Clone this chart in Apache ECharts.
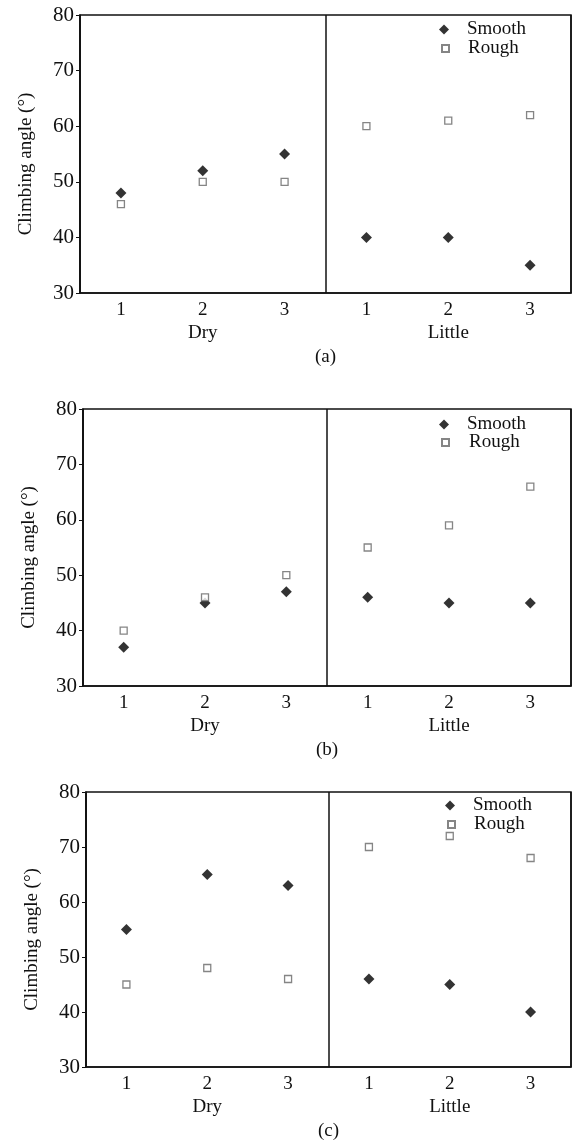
<!DOCTYPE html>
<html>
<head>
<meta charset="utf-8">
<script src="https://cdn.jsdelivr.net/npm/echarts@6/dist/echarts.min.js"></script>
<style>
  html, body { margin: 0; padding: 0; background: #fff; }
  #main { width: 572px; height: 1140px; }
</style>
</head>
<body>
<div id="main"></div>
<script>
// x categories (trial number inside each condition) and the two conditions
var trialLabels = ['1', '2', '3', '1', '2', '3'];
var conditions = ['Dry', 'Little'];
var panelNames = ['(a)', '(b)', '(c)'];
var yMin = 30, yMax = 80, yStep = 10;

// climbing angle values, Dry 1-3 then Little 1-3
var smoothA = [48, 52, 55, 40, 40, 35];
var roughA = [46, 50, 50, 60, 61, 62];
var smoothB = [37, 45, 47, 46, 45, 45];
var roughB = [40, 46, 50, 55, 59, 66];
var smoothC = [55, 65, 63, 46, 45, 40];
var roughC = [45, 48, 46, 70, 72, 68];

var smoothAll = [smoothA, smoothB, smoothC];
var roughAll = [roughA, roughB, roughC];

// panel boxes in px
var boxes = [
  { left: 80, top: 15, width: 491, height: 278, legX: 439, legY: 20, legX2: 441, legY2: 39, pad: 14 },
  { left: 83, top: 409, width: 488, height: 277, legX: 439, legY: 415, legX2: 441, legY2: 433, pad: 15 },
  { left: 86, top: 792, width: 485, height: 275, legX: 445, legY: 796, legX2: 447, legY2: 815, pad: 14 }
];

var font = 'Liberation Serif, Times New Roman, serif';

var myChart = echarts.init(document.getElementById('main'));

var option = {
  animation: false,
  backgroundColor: '#fff',
  title: [],
  legend: [],
  grid: [],
  xAxis: [],
  yAxis: [],
  series: []
};

boxes.forEach(function (b, i) {
  option.grid.push({
    left: b.left, top: b.top, width: b.width, height: b.height,
    show: true, borderColor: '#111', borderWidth: 1.5, backgroundColor: 'transparent'
  });

  // trial axis 1 2 3 | 1 2 3
  option.xAxis.push({
    type: 'category', gridIndex: i, data: trialLabels,
    axisLine: { lineStyle: { color: '#111', width: 1.5 } },
    axisTick: { alignWithLabel: true, inside: true, length: 4, lineStyle: { color: '#444' } },
    axisLabel: { color: '#111', fontFamily: font, fontSize: 19, margin: 8 },
    splitLine: { show: false }
  });
  // condition axis, its split line is the divider
  option.xAxis.push({
    type: 'category', gridIndex: i, data: conditions, position: 'bottom',
    axisLine: { show: false },
    axisTick: { show: false },
    axisLabel: { color: '#111', fontFamily: font, fontSize: 19, margin: 31 },
    splitLine: { show: true, interval: 0, lineStyle: { color: '#111', width: 1.5 } }
  });

  option.yAxis.push({
    type: 'value', gridIndex: i, min: yMin, max: yMax, interval: yStep,
    name: 'Climbing angle (°)', nameLocation: 'middle', nameGap: 44,
    nameTextStyle: { color: '#111', fontFamily: font, fontSize: 19, padding: [0, 20, 0, 0] },
    axisLine: { show: true, lineStyle: { color: '#111', width: 1.5 } },
    axisTick: { show: true, length: 4, lineStyle: { color: '#111' } },
    axisLabel: { color: '#111', fontFamily: font, fontSize: 21, margin: 6 },
    splitLine: { show: false }
  });

  option.series.push({
    name: 'Smooth', type: 'scatter', xAxisIndex: i * 2, yAxisIndex: i,
    symbol: 'diamond', symbolSize: 11,
    itemStyle: { color: '#000' },
    data: smoothAll[i]
  });
  option.series.push({
    name: 'Rough', type: 'scatter', xAxisIndex: i * 2, yAxisIndex: i,
    symbol: 'rect', symbolSize: 7,
    itemStyle: { color: '#fff', borderColor: '#666', borderWidth: 1.3 },
    data: roughAll[i]
  });

  option.legend.push({
    data: ['Smooth'], left: b.legX, top: b.legY, orient: 'vertical',
    itemWidth: 10, itemHeight: 10, selectedMode: false, padding: 0,
    textStyle: { color: '#111', fontFamily: font, fontSize: 19, lineHeight: 19, padding: [0, 0, 0, 13] }
  });
  option.legend.push({
    data: ['Rough'], left: b.legX2, top: b.legY2, orient: 'vertical',
    itemWidth: 7, itemHeight: 7, selectedMode: false, padding: 0,
    textStyle: { color: '#111', fontFamily: font, fontSize: 19, lineHeight: 19, padding: [0, 0, 0, b.pad] }
  });

  option.title.push({
    text: panelNames[i], left: b.left + b.width / 2, top: b.top + b.height + 55,
    textAlign: 'center', padding: 0,
    textStyle: { color: '#111', fontFamily: font, fontSize: 19, fontWeight: 'normal' }
  });
});

myChart.setOption(option);
</script>
</body>
</html>
